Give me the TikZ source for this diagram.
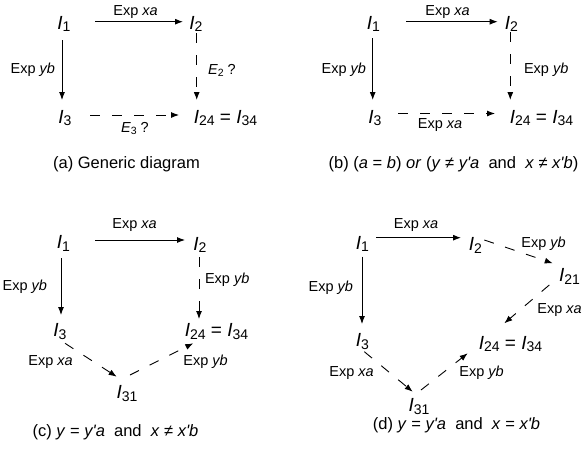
\documentclass[tikz,border=0pt]{standalone}
\usepackage{fontspec}
\setmainfont{Liberation Sans}[Ligatures=TeXOff]
\usetikzlibrary{arrows.meta}
\newcommand{\Isb}[1]{\textit{I}\raisebox{-2.5pt}{\fontsize{14}{14}\selectfont #1}}
\newcommand{\Esb}[1]{\textit{E}\raisebox{-2pt}{\fontsize{10.5}{10.5}\selectfont #1}}
\newcommand{\ap}{\textquotesingle}
\tikzset{
  st/.style={inner sep=0pt,outer sep=0pt,font=\fontsize{19}{20}\selectfont},
  lb/.style={inner sep=0pt,outer sep=0pt,font=\fontsize{14.5}{16}\selectfont},
  captxt/.style={inner sep=0pt,outer sep=0pt,font=\fontsize{16.5}{18}\selectfont},
  arr/.style={-{Latex[length=8pt,width=6pt]},line width=0.9pt},
  dsh/.style={arr,dash pattern=on 10pt off 12pt}
}
\begin{document}
\begin{tikzpicture}[x=1pt,y=-1pt]
\useasboundingbox (0,0) rectangle (582,450);
% ---------- (a)
\node[st] (a1) at (64,24) {\Isb{1}};
\node[st] (a2) at (196,24) {\Isb{2}};
\node[st] (a3) at (65,118) {\Isb{3}};
\node[st] (a24) at (225.5,118) {\Isb{24} = \Isb{34}};
\draw[arr] ([shift={(31,-2.3)}]a1.center) -- ([shift={(-13,-2.3)}]a2.center);
\draw[arr] ([shift={(-2,16)}]a1.center) -- ([shift={(-3,-18)}]a3.center);
\draw[dsh] ([shift={(0.7,9)}]a2.center) -- ([shift={(-28.8,-18)}]a24.center);
\draw[dsh] ([shift={(25,-3)}]a3.center) -- ([shift={(-46.5,-3)}]a24.center);
\node[lb] (la1) at (135.5,12) {Exp \textit{xa}};
\node[lb,anchor=east] (la2) at (55,70) {Exp \textit{yb}};
\node[lb,anchor=west] (la3) at (208,70) {\Esb{2} ?};
\node[lb,anchor=west] (la4) at (121,128) {\Esb{3} ?};
\node[captxt] (ca) at (126.5,164) {(a) Generic diagram};
% ---------- (b)
\node[st] (b1) at (373.5,24) {\Isb{1}};
\node[st] (b2) at (511.5,24) {\Isb{2}};
\node[st] (b3) at (375,118) {\Isb{3}};
\node[st] (b24) at (541.5,118) {\Isb{24} = \Isb{34}};
\draw[arr] ([shift={(32.5,-2.3)}]b1.center) -- ([shift={(-13.8,-2.3)}]b2.center);
\draw[arr] ([shift={(-0.8,14)}]b1.center) -- ([shift={(-2.3,-18)}]b3.center);
\draw[dsh] ([shift={(-1.2,8)}]b2.center) -- ([shift={(-31.2,-18)}]b24.center);
\draw[dsh] ([shift={(23,-4.5)}]b3.center) -- ([shift={(-46.5,-4.5)}]b24.center);
\node[lb] (lb1) at (447.5,12) {Exp \textit{xa}};
\node[lb,anchor=east] (lb2) at (366,70) {Exp \textit{yb}};
\node[lb,anchor=west] (lb3) at (524,70) {Exp \textit{yb}};
\node[lb] (lb4) at (440,124.8) {Exp \textit{xa}};
\node[captxt] (cb) at (453.5,164) {(b) (\textit{a} = \textit{b}) \textit{or} (\textit{y} ≠ \textit{y\ap a}\ \ and\ \ \textit{x} ≠ \textit{x\ap b})};
% ---------- (c)
\node[st] (c1) at (63.5,243.5) {\Isb{1}};
\node[st] (c2) at (200,245) {\Isb{2}};
\node[st] (c3) at (60,331.5) {\Isb{3}};
\node[st] (c24) at (216.5,331.5) {\Isb{24} = \Isb{34}};
\node[st] (c31) at (127,393.5) {\Isb{31}};
\draw[arr] ([shift={(31.5,-3.5)}]c1.center) -- ([shift={(-15,-5)}]c2.center);
\draw[arr] ([shift={(-2.5,14.5)}]c1.center) -- ([shift={(1,-16.5)}]c3.center);
\draw[dsh] ([shift={(-1,12)}]c2.center) -- ([shift={(-17.5,-12.5)}]c24.center);
\draw[dsh] ([shift={(5,11.8)}]c3.center) -- ([shift={(-10.3,-16.8)}]c31.center);
\draw[dsh] ([shift={(3,-18.5)}]c31.center) -- ([shift={(-23.2,11.8)}]c24.center);
\node[lb] (lc1) at (134.5,225) {Exp \textit{xa}};
\node[lb,anchor=east] (lc2) at (47,287) {Exp \textit{yb}};
\node[lb,anchor=west] (lc3) at (205,280) {Exp \textit{yb}};
\node[lb] (lc4) at (50.5,362) {Exp \textit{xa}};
\node[lb] (lc5) at (205.5,362) {Exp \textit{yb}};
\node[captxt] (cc) at (115.5,432) {(c) \textit{y} = \textit{y\ap a}\ \ and\ \ \textit{x} ≠ \textit{x\ap b}};
% ---------- (d)
\node[st] (d1) at (362.5,244) {\Isb{1}};
\node[st] (d2) at (475.5,245.5) {\Isb{2}};
\node[st] (d21) at (569.5,276.5) {\Isb{21}};
\node[st] (d3) at (362.5,341.5) {\Isb{3}};
\node[st] (d24) at (510.5,344) {\Isb{24} = \Isb{34}};
\node[st] (d31) at (419,406.5) {\Isb{31}};
\draw[arr] ([shift={(13.5,-6.3)}]d1.center) -- ([shift={(-14.5,-7.8)}]d2.center);
\draw[dsh] ([shift={(8.8,-5.5)}]d2.center) -- ([shift={(-16.8,-13.2)}]d21.center);
\draw[dsh] ([shift={(-20.2,8.5)}]d21.center) -- ([shift={(-6.2,-20.7)}]d24.center);
\draw[arr] ([shift={(-0.5,12.7)}]d1.center) -- ([shift={(-0.5,-17.5)}]d3.center);
\draw[dsh] ([shift={(1.8,10.2)}]d3.center) -- ([shift={(-6.3,-14.8)}]d31.center);
\draw[dsh] ([shift={(2,-16.5)}]d31.center) -- ([shift={(-42.8,9.3)}]d24.center);
\node[lb] (ld1) at (416,225) {Exp \textit{xa}};
\node[lb] (ld2) at (543.5,243.3) {Exp \textit{yb}};
\node[lb] (ld3) at (559.5,310) {Exp \textit{xa}};
\node[lb,anchor=east] (ld4) at (353,288) {Exp \textit{yb}};
\node[lb] (ld5) at (351.5,373) {Exp \textit{xa}};
\node[lb] (ld6) at (481.5,373) {Exp \textit{yb}};
\node[captxt] (cd) at (456.5,425) {(d) \textit{y} = \textit{y\ap a}\ \ and\ \ \textit{x} = \textit{x\ap b}};
\end{tikzpicture}
\end{document}
